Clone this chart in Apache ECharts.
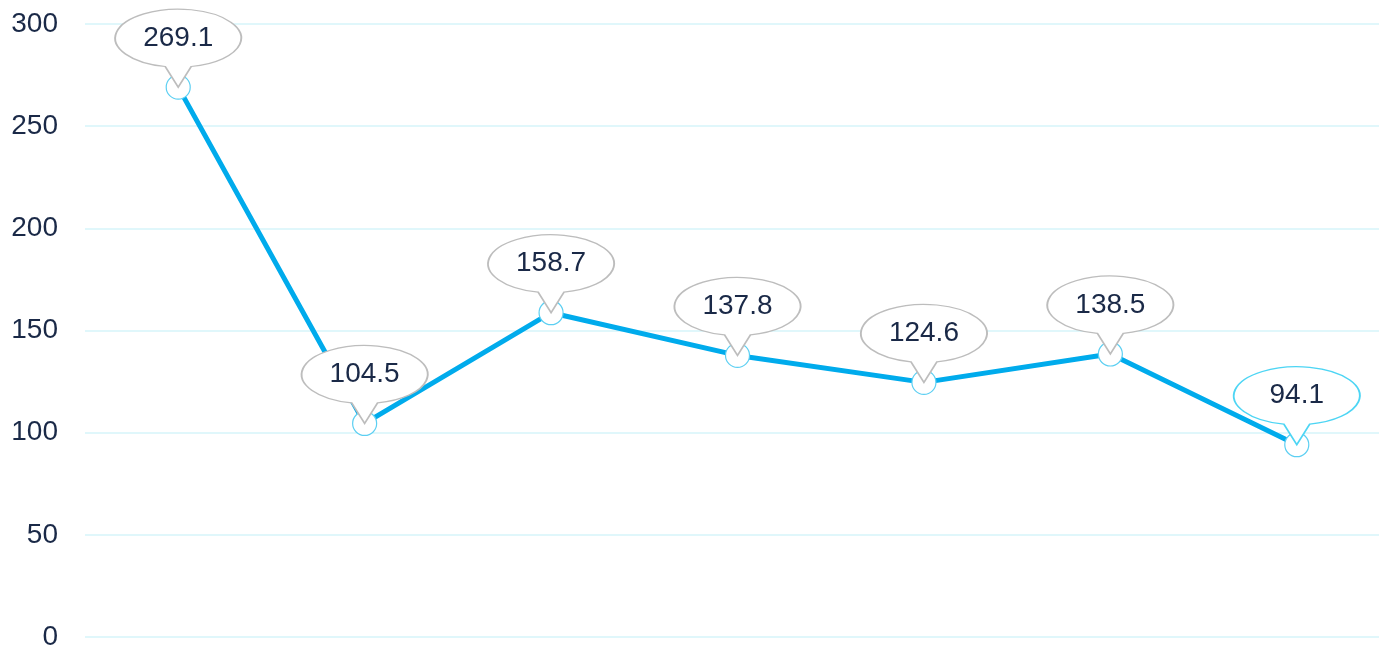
<!DOCTYPE html>
<html>
<head>
<meta charset="utf-8">
<title>chart</title>
<script src="https://cdn.jsdelivr.net/npm/echarts@6/dist/echarts.min.js"></script>
<style>
  html, body { margin: 0; padding: 0; background: #fff; }
  #chart { width: 1379px; height: 648px; }
</style>
</head>
<body>
<div id="chart"></div>
<script>
// x categories (labels are hidden in the chart)
let categories = ['1', '2', '3', '4', '5', '6', '7'];
// series values
let values = [269.1, 104.5, 158.7, 137.8, 124.6, 138.5, 94.1];
// y tick labels run 0..300 by 50
let yMin = 0;
let yMax = 300;
let yStep = 50;
// bubble that is shown in the highlighted (cyan) state
let activeIndex = 6;

// speech bubble: ellipse with a small tail pointing down to the point
let bubblePath = 'path://M50 57.4A63 29 0 1 1 76 57.4L63 78Z';

let chart = echarts.init(document.getElementById('chart'));

let bubbleData = values.map((v, i) => {
  if (i === activeIndex) {
    return { value: v, itemStyle: { borderColor: '#4dd5f4' } };
  }
  return v;
});

chart.setOption({
  animation: false,
  grid: {
    left: 85,
    top: 24,
    bottom: 11,
    width: 1305,
    outerBoundsMode: 'none'
  },
  xAxis: {
    type: 'category',
    data: categories,
    boundaryGap: true,
    axisLine: { show: false },
    axisTick: { show: false },
    axisLabel: { show: false }
  },
  yAxis: {
    type: 'value',
    min: yMin,
    max: yMax,
    interval: yStep,
    axisLine: { show: false },
    axisTick: { show: false },
    axisLabel: {
      margin: 27,
      color: '#1a2947',
      fontSize: 28,
      fontFamily: 'Liberation Sans, Arial, sans-serif'
    },
    splitLine: {
      lineStyle: { color: '#d6f4fa', width: 1.5 }
    }
  },
  series: [
    {
      type: 'line',
      data: values,
      z: 2,
      symbol: 'circle',
      symbolSize: 24,
      showAllSymbol: true,
      lineStyle: { color: '#00abec', width: 5 },
      itemStyle: { color: '#fff', borderColor: '#5ccff2', borderWidth: 1.2 }
    },
    {
      type: 'scatter',
      data: bubbleData,
      z: 3,
      symbol: bubblePath,
      symbolSize: [126, 78],
      symbolOffset: [0, '-50%'],
      itemStyle: { color: '#fff', borderColor: '#bdbdbd', borderWidth: 1.5, opacity: 1 },
      label: {
        show: true,
        position: 'inside',
        offset: [0, -10],
        color: '#1a2947',
        fontSize: 28,
        fontFamily: 'Liberation Sans, Arial, sans-serif'
      }
    }
  ]
});
</script>
</body>
</html>
